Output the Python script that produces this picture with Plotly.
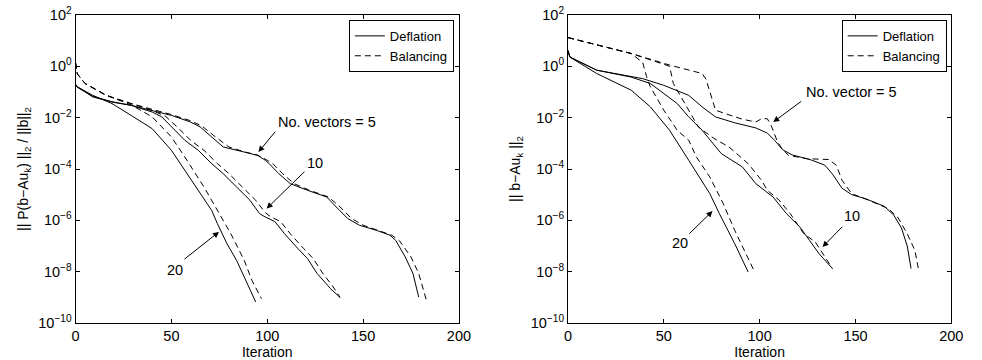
import plotly.graph_objects as go

# ---------------- data (log10 of residual) ----------------
# Left panel: || P(b-Au_k) ||_2 / ||b||_2
L_def5_it = [0, 1, 9, 19, 29, 40, 50, 60, 65, 71, 77, 88, 95, 99, 101, 106, 112, 121, 131, 136, 142, 148, 157, 164, 167, 172, 176, 179]
L_def5_lg = [-0.7, -0.8, -1.19, -1.39, -1.52, -1.71, -1.91, -2.17, -2.36, -2.75, -3.14, -3.34, -3.47, -3.66, -3.79, -4.18, -4.57, -4.83, -5.09, -5.48, -5.93, -6.19, -6.39, -6.58, -6.78, -7.43, -8.07, -8.99]
L_bal5_it = [0, 1, 5, 16, 29, 40, 50, 60, 66, 73, 80, 88, 95, 100, 103, 108, 114, 122, 132, 138, 144, 150, 158, 165, 169, 175, 179, 183]
L_bal5_lg = [0.15, -0.3, -0.67, -1.13, -1.45, -1.68, -1.88, -2.12, -2.33, -2.75, -3.14, -3.33, -3.46, -3.66, -3.80, -4.18, -4.57, -4.83, -5.09, -5.48, -5.93, -6.19, -6.39, -6.58, -6.80, -7.43, -8.07, -9.11]
L_def10_it = [0, 1, 9, 19, 29, 40, 45, 50, 57, 64, 71, 77, 84, 91, 96, 99, 104, 109, 116, 121, 126, 133, 138]
L_def10_lg = [-0.7, -0.82, -1.17, -1.38, -1.52, -1.78, -1.97, -2.36, -2.88, -3.27, -3.79, -4.18, -4.70, -5.22, -5.74, -5.87, -6.05, -6.52, -7.10, -7.49, -8.07, -8.66, -9.01]
L_bal10_it = [0, 1, 5, 16, 29, 40, 47, 53, 60, 67, 74, 80, 87, 94, 99, 102, 107, 112, 119, 124, 129, 134, 138]
L_bal10_lg = [0.15, -0.3, -0.67, -1.13, -1.45, -1.72, -1.95, -2.36, -2.88, -3.27, -3.79, -4.18, -4.70, -5.22, -5.70, -5.87, -6.05, -6.52, -7.10, -7.49, -8.07, -8.55, -9.0]
L_def20_it = [0, 1, 9, 19, 29, 40, 50, 57, 64, 71, 74, 79, 84, 89, 94]
L_def20_lg = [-0.7, -0.8, -1.13, -1.45, -1.91, -2.43, -3.27, -4.05, -4.83, -5.61, -6.13, -6.91, -7.56, -8.34, -9.18]
L_bal20_it = [0, 1, 5, 16, 29, 40, 50, 57, 67, 74, 81, 88, 92, 97]
L_bal20_lg = [0.15, -0.3, -0.67, -1.13, -1.50, -1.97, -2.75, -3.53, -4.70, -5.61, -6.52, -7.56, -8.34, -9.05]

# Right panel: || b - Au_k ||_2
R_def5_it = [0, 1, 15, 39, 50, 63, 70, 77, 87, 98, 104, 108, 112, 117, 127, 134, 138, 143, 148, 155, 165, 170, 174, 177, 179]
R_def5_lg = [0.62, 0.36, -0.15, -0.48, -0.74, -1.13, -1.58, -1.97, -2.2, -2.4, -2.6, -2.9, -3.25, -3.45, -3.65, -3.85, -4.2, -4.75, -5.0, -5.15, -5.45, -5.8, -6.3, -7.0, -7.88]
R_bal5_it = [0, 19, 33, 53, 70, 72, 77, 82, 91, 98, 101, 104, 106, 109, 111, 115, 125, 136, 140, 143, 148, 157, 167, 172, 177, 181, 183]
R_bal5_lg = [1.12, 0.75, 0.50, 0.05, -0.28, -0.5, -1.71, -1.84, -2.06, -2.17, -2.04, -2.04, -2.30, -2.88, -3.14, -3.47, -3.60, -3.63, -3.85, -4.44, -4.96, -5.22, -5.54, -5.87, -6.52, -7.17, -7.95]
R_def10_it = [0, 1, 15, 33, 43, 50, 57, 63, 70, 80, 91, 98, 101, 107, 114, 121, 126, 131, 138]
R_def10_lg = [0.62, 0.36, -0.15, -0.42, -0.67, -1.06, -1.45, -1.97, -2.49, -3.40, -3.92, -4.57, -4.75, -5.09, -5.74, -6.26, -6.78, -7.30, -7.88]
R_bal10_it = [0, 19, 33, 50, 53, 55, 57, 62, 68, 76, 84, 94, 101, 104, 110, 116, 123, 129, 133, 138]
R_bal10_lg = [1.12, 0.75, 0.50, 0.08, 0.0, -0.67, -0.93, -1.6, -2.36, -2.8, -3.14, -3.79, -4.44, -4.83, -5.2, -5.74, -6.52, -6.84, -7.30, -7.88]
R_def20_it = [0, 1, 15, 33, 43, 53, 63, 74, 79, 87, 94]
R_def20_lg = [0.62, 0.36, -0.28, -0.93, -1.58, -2.49, -3.66, -4.96, -5.74, -6.91, -8.01]
R_bal20_it = [0, 19, 33, 39, 41, 43, 50, 57, 63, 67, 74, 81, 87, 97]
R_bal20_lg = [1.12, 0.75, 0.50, 0.15, -0.4, -0.8, -1.71, -2.49, -2.88, -3.53, -4.31, -5.35, -6.39, -7.95]

x_ticks = [0, 50, 100, 150, 200]
y_exps = [2, 0, -2, -4, -6, -8, -10]

FONT = "Liberation Sans, Arial, Helvetica, sans-serif"
DASH = "6px,4px"

fig = go.Figure()


def add(it, lg, dashed, xa, ya, legend, show):
    fig.add_trace(go.Scatter(
        x=it, y=[10 ** v for v in lg], mode="lines",
        line=dict(color="black", width=1, dash=DASH if dashed else "solid"),
        name="Balancing" if dashed else "Deflation",
        legendgroup=legend + ("b" if dashed else "d"),
        showlegend=show, legend=legend, xaxis=xa, yaxis=ya,
    ))


add(L_def5_it, L_def5_lg, False, "x", "y", "legend", True)
add(L_bal5_it, L_bal5_lg, True, "x", "y", "legend", True)
add(L_def10_it, L_def10_lg, False, "x", "y", "legend", False)
add(L_bal10_it, L_bal10_lg, True, "x", "y", "legend", False)
add(L_def20_it, L_def20_lg, False, "x", "y", "legend", False)
add(L_bal20_it, L_bal20_lg, True, "x", "y", "legend", False)

add(R_def5_it, R_def5_lg, False, "x2", "y2", "legend2", True)
add(R_bal5_it, R_bal5_lg, True, "x2", "y2", "legend2", True)
add(R_def10_it, R_def10_lg, False, "x2", "y2", "legend2", False)
add(R_bal10_it, R_bal10_lg, True, "x2", "y2", "legend2", False)
add(R_def20_it, R_def20_lg, False, "x2", "y2", "legend2", False)
add(R_bal20_it, R_bal20_lg, True, "x2", "y2", "legend2", False)

W, H = 982, 360
axis_common = dict(showline=True, linecolor="black", linewidth=1, mirror="ticks",
                   ticks="inside", ticklen=4, tickcolor="black", showgrid=False,
                   zeroline=False, tickfont=dict(size=14.5, color="black"))

xcommon = dict(axis_common, range=[0, 200], tickvals=x_ticks,
               title=dict(text="Iteration", font=dict(size=14, color="black"), standoff=2))
ycommon = dict(axis_common, type="log", range=[-10, 2],
               tickvals=[10 ** e for e in y_exps],
               ticktext=[("10<sup>%s</sup>" % str(e).replace("-", "−")) for e in y_exps])

fig.update_layout(
    width=W, height=H,
    margin=dict(l=0, r=0, t=15, b=37),
    paper_bgcolor="white", plot_bgcolor="white",
    font=dict(family=FONT, size=14, color="black"),
    xaxis=dict(xcommon, domain=[72.7 / W, 462.5 / W], anchor="y"),
    yaxis=dict(ycommon, anchor="x",
               title=dict(text="|| P(b−Au<sub>k</sub>) ||<sub>2</sub> / ||b||<sub>2</sub>",
                          font=dict(size=14, color="black"), standoff=6)),
    xaxis2=dict(xcommon, domain=[573.3 / W, 963.0 / W], anchor="y2"),
    yaxis2=dict(ycommon, anchor="x2",
                title=dict(text="|| b−Au<sub>k</sub> ||<sub>2</sub>",
                           font=dict(size=14, color="black"), standoff=6)),
    legend=dict(x=457.3 / W, xanchor="right", y=0.984, yanchor="top",
                bordercolor="black", borderwidth=1, bgcolor="white",
                font=dict(size=13), itemwidth=30, tracegroupgap=0),
    legend2=dict(x=958.3 / W, xanchor="right", y=0.984, yanchor="top",
                 bordercolor="black", borderwidth=1, bgcolor="white",
                 font=dict(size=13), itemwidth=30, tracegroupgap=0),
)

# annotation labels (text) and arrows: (x, log10 y)
labels = [
    ("x", "y", "No. vectors = 5", 104.8, -2.18, "left"),
    ("x", "y", "10", 124.8, -3.78, "center"),
    ("x", "y", "20", 51.7, -7.95, "center"),
    ("x2", "y2", "No. vector = 5", 123.3, -1.0, "left"),
    ("x2", "y2", "20", 58.3, -6.89, "center"),
    ("x2", "y2", "10", 148.4, -5.84, "center"),
]
arrows = [
    ("x", "y", 104.8, -2.49, 95.4, -3.34),
    ("x", "y", 120.2, -4.05, 99.7, -5.54),
    ("x", "y", 56.0, -7.56, 74.8, -6.45),
    ("x2", "y2", 122.5, -1.32, 107.1, -2.17),
    ("x2", "y2", 62.5, -6.58, 75.4, -5.64),
    ("x2", "y2", 143.9, -6.19, 132.8, -7.04),
]
for xr, yr, txt, ax_, ay_, anc in labels:
    fig.add_annotation(xref=xr, yref=yr, x=ax_, y=ay_, text=txt, showarrow=False,
                       xanchor=anc, yanchor="middle", font=dict(size=14.5, color="black"))
for xr, yr, tx, ty, hx, hy in arrows:
    fig.add_annotation(xref=xr, yref=yr, x=hx, y=hy, axref=xr, ayref=yr, ax=tx, ay=ty,
                       text="", showarrow=True, arrowhead=2, arrowsize=1.2,
                       arrowwidth=1, arrowcolor="black", standoff=0)

fig.write_html("out.html")
